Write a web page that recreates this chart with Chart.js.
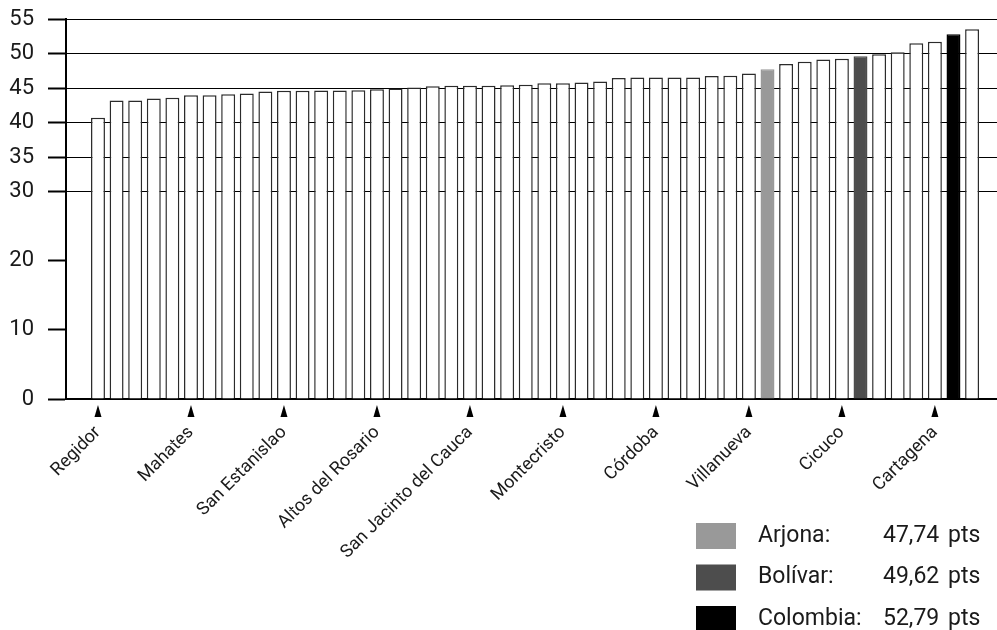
<!DOCTYPE html>
<html>
<head>
<meta charset="utf-8">
<script src="https://cdn.jsdelivr.net/npm/chart.js@4.4.0/dist/chart.umd.min.js"></script>
<style>
  body { margin: 0; background: #fff; }
</style>
</head>
<body>
<canvas id="myChart" width="997" height="630"></canvas>
<script>
// municipalities sorted by score, only some names are shown in the picture
const categories = [
    'Regidor', '', '', '', '', 'Mahates', '', '', '', '',
    'San Estanislao', '', '', '', '', 'Altos del Rosario', '', '', '', '',
    'San Jacinto del Cauca', '', '', '', '', 'Montecristo', '', '', '', '',
    'Córdoba', '', '', '', '', 'Villanueva', 'Arjona', '', '', '',
    'Cicuco', 'Bolívar', '', '', '', 'Cartagena', 'Colombia', ''
];
const scores = [
    40.7, 43.2, 43.2, 43.5, 43.6, 43.95, 43.95, 44.1, 44.2, 44.5,
    44.6, 44.6, 44.65, 44.65, 44.7, 44.85, 44.95, 45.1, 45.25, 45.35,
    45.35, 45.35, 45.4, 45.5, 45.7, 45.7, 45.8, 45.95, 46.45, 46.55,
    46.55, 46.55, 46.55, 46.75, 46.8, 47.1, 47.74, 48.5, 48.8, 49.15,
    49.25, 49.62, 49.9, 50.2, 51.5, 51.7, 52.79, 53.5
];
const yTicks = [0, 10, 20, 30, 35, 40, 45, 50, 55];
const xTicks = [0, 5, 10, 15, 20, 25, 30, 35, 40, 45];
const highlights = ['Arjona', 'Bolívar', 'Colombia'];
const highlightColors = ['#999999', '#4d4d4d', '#000000'];

const font = 'Roboto';
const textColor = '#1a1a1a';

function barColor(i) {
    const h = highlights.indexOf(categories[i]);
    return h >= 0 ? highlightColors[h] : '#ffffff';
}
function barBorder(i) {
    const h = highlights.indexOf(categories[i]);
    return h >= 0 ? highlightColors[h] : '#2b2b2b';
}

// little black triangles under the named ticks
const arrowPlugin = {
    id: 'arrows',
    afterDraw(chart) {
        const x = chart.scales.x;
        const c = chart.ctx;
        c.save();
        c.fillStyle = '#000';
        xTicks.forEach(v => {
            const px = x.getPixelForValue(v);
            c.beginPath();
            c.moveTo(px - 3.5, 417);
            c.lineTo(px + 3.5, 417);
            c.lineTo(px, 405);
            c.closePath();
            c.fill();
        });
        c.restore();
    }
};

// legend box in the lower right corner
const legendPlugin = {
    id: 'sideLegend',
    afterDraw(chart) {
        const c = chart.ctx;
        c.save();
        c.font = '23px ' + font;
        c.textBaseline = 'middle';
        highlights.forEach((name, k) => {
            const i = categories.indexOf(name);
            const top = 523 + k * 41.5;
            c.fillStyle = highlightColors[k];
            c.fillRect(696, top, 40, 26);
            c.fillStyle = textColor;
            c.textAlign = 'left';
            c.fillText(name + ':', 758, top + 13);
            c.fillText(scores[i].toFixed(2).replace('.', ','), 883, top + 13);
            c.fillText('pts', 948, top + 13);
        });
        c.restore();
    }
};

const ctx = document.getElementById('myChart');

new Chart(ctx, {
    type: 'bar',
    data: {
        datasets: [{
            data: scores.map((v, i) => ({ x: i, y: v })),
            backgroundColor: c => barColor(c.dataIndex),
            borderColor: c => barBorder(c.dataIndex),
            borderWidth: 1.5,
            barPercentage: 0.75,
            categoryPercentage: 1,
        }]
    },
    options: {
        responsive: false,
        devicePixelRatio: 1,
        animation: false,
        layout: {
            autoPadding: false,
            padding: { top: 19, right: 0, left: 0, bottom: 0 }
        },
        plugins: {
            legend: { display: false },
            tooltip: { enabled: false },
        },
        scales: {
            x: {
                type: 'linear',
                offset: false,
                min: -1.72,
                max: 48.34,
                afterBuildTicks: s => { s.ticks = xTicks.map(v => ({ value: v })); },
                afterFit: s => { s.height = 231; },
                grid: { display: false, drawTicks: false },
                border: { display: true, color: '#000', width: 2 },
                ticks: {
                    autoSkip: false,
                    minRotation: 45,
                    maxRotation: 45,
                    padding: 23,
                    color: textColor,
                    font: { family: font, size: 18 },
                    callback: v => categories[v] || '',
                }
            },
            y: {
                min: 0,
                max: 55,
                afterBuildTicks: s => { s.ticks = yTicks.map(v => ({ value: v })); },
                afterFit: s => {
                    s.width = 66;
                    s.paddingTop = 0;
                    s.paddingBottom = 0;
                },
                grid: {
                    color: c => (c.tick && c.tick.value >= 30) ? '#000' : 'rgba(0,0,0,0)',
                    lineWidth: 1,
                    tickColor: '#000',
                    tickWidth: 2,
                    tickLength: 18,
                },
                border: { display: true, color: '#000', width: 2 },
                ticks: {
                    padding: 14,
                    color: textColor,
                    font: { family: font, size: 22 },
                }
            }
        }
    },
    plugins: [arrowPlugin, legendPlugin]
});
</script>
</body>
</html>
